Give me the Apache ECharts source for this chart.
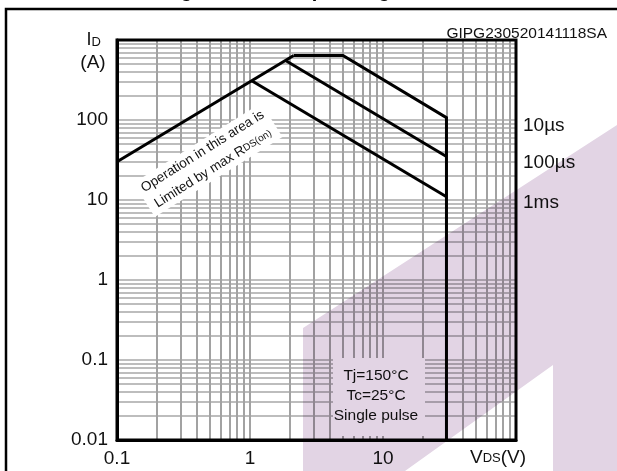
<!DOCTYPE html>
<html>
<head>
<meta charset="utf-8">
<script src="https://cdn.jsdelivr.net/npm/echarts@6/dist/echarts.min.js"></script>
<style>
html, body { margin: 0; padding: 0; background: #fff; }
#chart { width: 617px; height: 471px; }
</style>
</head>
<body>
<div id="chart"></div>
<script>
// axis ranges (decades)
var xRange = [0.1, 100];
var yRange = [0.01, 1000];

// SOA boundaries, VDS (V) vs ID (A)
var rdsLimit = [[0.1, 30], [2.13, 640]];
var pulse10us = [[2.13, 640], [5, 640], [30, 107], [30, 0.01]];
var pulse100us = [[1.85, 555], [30, 35]];
var pulse1ms = [[1.03, 310], [30, 11]];
var pulseNames = ['10µs', '100µs', '1ms'];

var font = 'Liberation Sans, Arial, sans-serif';

function soaChart() {
	let myChart = echarts.init(document.getElementById('chart'));

	function curve(data) {
		return {
			type: 'line',
			data: data,
			showSymbol: false,
			silent: true,
			z: 5,
			lineStyle: { color: '#000', width: 3, join: 'miter' }
		};
	}

	let option = {
		animation: false,
		grid: {
			left: 117,
			right: 101,
			top: 40,
			bottom: 31,
			show: true,
			borderColor: '#000',
			borderWidth: 3,
			z: 4
		},
		xAxis: {
			type: 'log',
			logBase: 10,
			min: xRange[0],
			max: xRange[1],
			axisLine: { show: true, lineStyle: { color: '#000', width: 3 } },
			axisTick: { show: false },
			axisLabel: {
				margin: 9,
				fontSize: 19,
				color: '#111',
				fontFamily: font,
				formatter: function (v) { return v >= 100 ? '' : String(v); }
			},
			splitLine: { show: true, lineStyle: { color: '#a2a2a2', width: 2 } },
			minorTick: { show: false, splitNumber: 9 },
			minorSplitLine: { show: true, lineStyle: { color: '#a2a2a2', width: 2 } }
		},
		yAxis: {
			type: 'log',
			logBase: 10,
			min: yRange[0],
			max: yRange[1],
			axisLine: { show: true, lineStyle: { color: '#000', width: 3 } },
			axisTick: { show: false },
			axisLabel: {
				margin: 9,
				fontSize: 19,
				color: '#111',
				fontFamily: font,
				formatter: function (v) { return v >= 1000 ? '' : String(v); }
			},
			splitLine: { show: true, lineStyle: { color: '#a8a8a8', width: 1.5 } },
			minorTick: { show: false, splitNumber: 9 },
			minorSplitLine: { show: true, lineStyle: { color: '#a8a8a8', width: 1.5 } }
		},
		series: [curve(rdsLimit), curve(pulse10us), curve(pulse100us), curve(pulse1ms)],
		graphic: [
			// outer frame
			{ type: 'rect', shape: { x: 6, y: 9, width: 640, height: 500 }, style: { fill: 'none', stroke: '#000', lineWidth: 2.5 }, z: 20 },
			// title, cut off by the top edge
			{ type: 'text', x: 300, y: 1, style: { text: 'Figure 2. Safe operating area', font: 'bold 20px ' + font, fill: '#000', align: 'center', verticalAlign: 'bottom' }, z: 20 },
			{ type: 'text', x: 607, y: 34, style: { text: 'GIPG230520141118SA', font: '15.5px ' + font, fill: '#111', align: 'right', verticalAlign: 'middle' }, z: 20 },
			{ type: 'text', x: 101, y: 40, style: { text: 'I{d|D}', font: '18px ' + font, fill: '#111', align: 'right', verticalAlign: 'middle', rich: { d: { fontSize: 13, fontFamily: font, verticalAlign: 'bottom' } } }, z: 20 },
			{ type: 'text', x: 93, y: 63, style: { text: '(A)', font: '19px ' + font, fill: '#111', align: 'center', verticalAlign: 'middle' }, z: 20 },
			{ type: 'text', x: 498, y: 458, style: { text: 'V{d|DS}(V)', font: '19px ' + font, fill: '#111', align: 'center', verticalAlign: 'middle', rich: { d: { fontSize: 13, fontFamily: font } } }, z: 20 },
			{ type: 'text', x: 523, y: 126, style: { text: pulseNames[0], font: '19px ' + font, fill: '#111', verticalAlign: 'middle' }, z: 20 },
			{ type: 'text', x: 523, y: 163, style: { text: pulseNames[1], font: '19px ' + font, fill: '#111', verticalAlign: 'middle' }, z: 20 },
			{ type: 'text', x: 523, y: 203, style: { text: pulseNames[2], font: '19px ' + font, fill: '#111', verticalAlign: 'middle' }, z: 20 },
			// RDS(on) note
			{
				type: 'text', x: 208, y: 160, rotation: 0.56, z: 6,
				style: {
					text: 'Operation in this area is\nLimited by max R{s|DS(on)}',
					font: '13.5px ' + font, fill: '#111', align: 'center', verticalAlign: 'middle',
					lineHeight: 20, backgroundColor: '#fff', padding: [0, 4],
					rich: { s: { fontSize: 10, fontFamily: font, lineHeight: 20 } }
				}
			},
			// conditions box
			{ type: 'rect', shape: { x: 333, y: 358, width: 92, height: 78 }, style: { fill: '#fff' }, z: 6 },
			{
				type: 'text', x: 376, y: 396, z: 7,
				style: { text: 'Tj=150°C\nTc=25°C\nSingle pulse', font: '15.5px ' + font, fill: '#111', align: 'center', verticalAlign: 'middle', lineHeight: 20 }
			},
			// watermark
			{
				type: 'polygon', z: 50, silent: true,
				shape: { points: [[303, 328], [617, 125], [617, 471], [553, 471], [553, 365], [405, 471], [303, 471]] },
				style: { fill: '#e2d4e4', blend: 'multiply' }
			}
		]
	};

	myChart.setOption(option);
	window.addEventListener('resize', function () {
		myChart.resize();
	});
}

soaChart();
</script>
</body>
</html>
